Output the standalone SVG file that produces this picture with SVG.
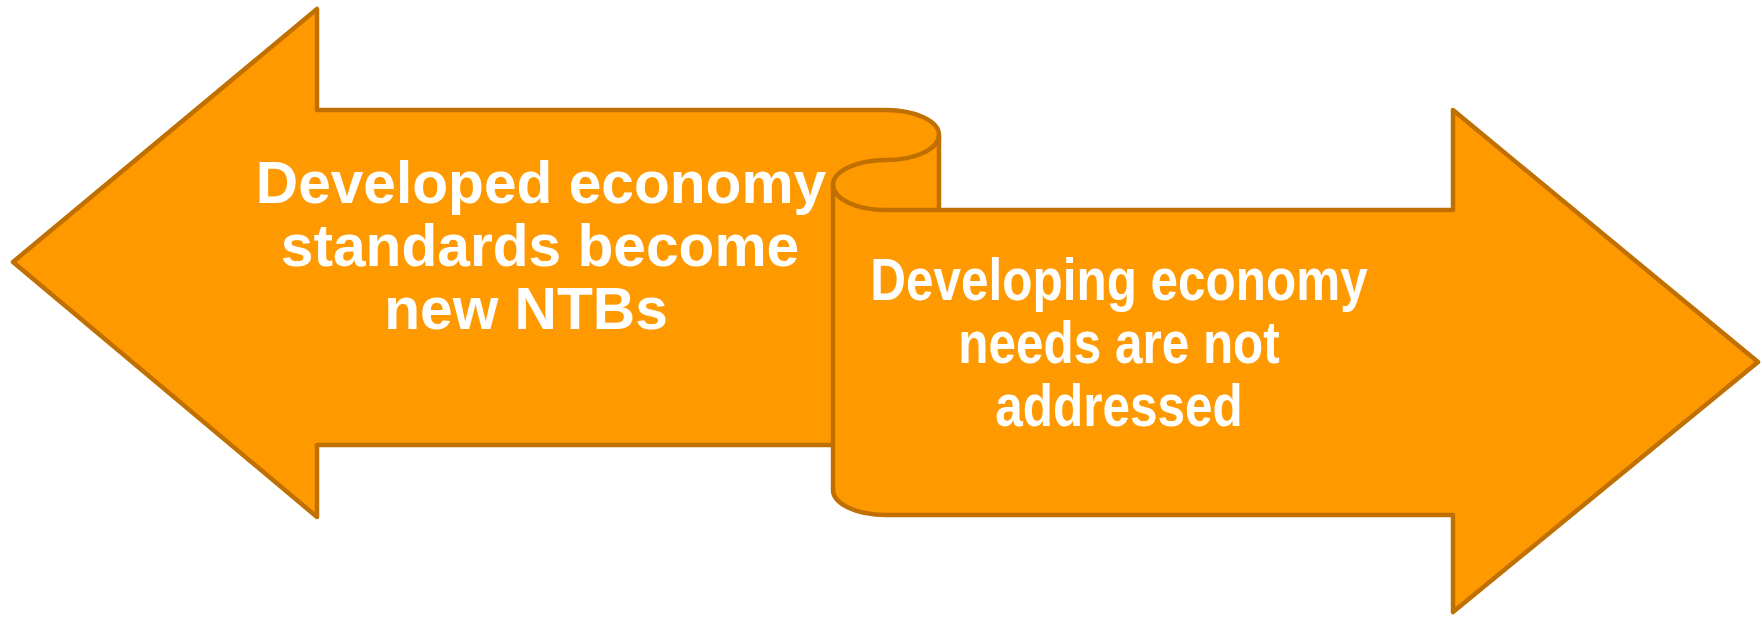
<svg xmlns="http://www.w3.org/2000/svg" width="1762" height="617" viewBox="0 0 1762 617">
<style>
.shape{fill:#FF9900;stroke:#C07000;stroke-width:4.5;stroke-linejoin:round;}
.line{fill:none;stroke:#C07000;stroke-width:4.5;stroke-linejoin:round;}
.lbl{font-family:"Liberation Sans",Arial,sans-serif;font-weight:bold;font-size:58.67px;fill:#FFFFFF;text-anchor:middle;}
</style>
<rect width="1762" height="617" fill="#FFFFFF"/>
<g id="ribbon">
<path class="shape" d="M 13,262 L 317,9 L 317,110 L 886,110 A 53,25 0 0 1 939,135 L 939,210 L 1453,210 L 1453,110 L 1758,362 L 1453,612 L 1453,515 L 886,515 A 53,25 0 0 1 833,490 L 833,445 L 317,445 L 317,517 Z"/>
<path class="line" d="M 939,135 A 53,25 0 0 1 886,160 A 53,25 0 0 0 833,185 A 53,25 0 0 0 886,210 L 939,210"/>
<path class="line" d="M 833,185 L 833,445"/>
</g>
<g id="left-label">
<text class="lbl" x="541" y="203">Developed economy</text>
<text class="lbl" x="540" y="266">standards become</text>
<text class="lbl" x="526" y="329">new NTBs</text>
</g>
<g id="right-label" transform="matrix(0.843 0 0 1 1119 0)">
<text class="lbl" x="0" y="300">Developing economy</text>
<text class="lbl" x="0" y="363">needs are not</text>
<text class="lbl" x="0" y="426.5">addressed</text>
</g>
</svg>
